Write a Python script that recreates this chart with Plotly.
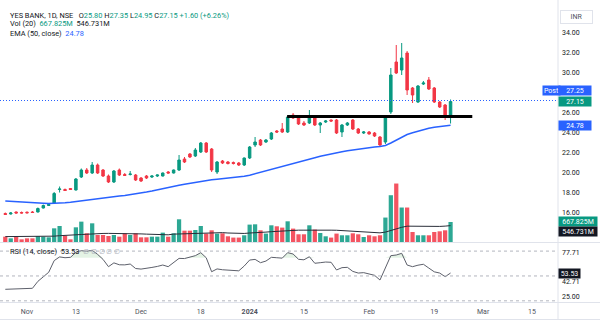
import numpy as np
import plotly.graph_objects as go

# ---------------------------------------------------------------- data
DATES = [
    "2023-10-26", "2023-10-27", "2023-10-30", "2023-10-31", "2023-11-01", "2023-11-02",
    "2023-11-03", "2023-11-06", "2023-11-07", "2023-11-08", "2023-11-09", "2023-11-10",
    "2023-11-12", "2023-11-13", "2023-11-15", "2023-11-16", "2023-11-17", "2023-11-20",
    "2023-11-21", "2023-11-22", "2023-11-23", "2023-11-24", "2023-11-28", "2023-11-29",
    "2023-11-30", "2023-12-01", "2023-12-04", "2023-12-05", "2023-12-06", "2023-12-07",
    "2023-12-08", "2023-12-11", "2023-12-12", "2023-12-13", "2023-12-14", "2023-12-15",
    "2023-12-18", "2023-12-19", "2023-12-20", "2023-12-21", "2023-12-22", "2023-12-26",
    "2023-12-27", "2023-12-28", "2023-12-29", "2024-01-01", "2024-01-02", "2024-01-03",
    "2024-01-04", "2024-01-05", "2024-01-08", "2024-01-09", "2024-01-10", "2024-01-11",
    "2024-01-12", "2024-01-15", "2024-01-16", "2024-01-17", "2024-01-18", "2024-01-19",
    "2024-01-20", "2024-01-23", "2024-01-24", "2024-01-25", "2024-01-29", "2024-01-30",
    "2024-01-31", "2024-02-01", "2024-02-02", "2024-02-05", "2024-02-06", "2024-02-07",
    "2024-02-08", "2024-02-09", "2024-02-12", "2024-02-13", "2024-02-14", "2024-02-15",
    "2024-02-16", "2024-02-19", "2024-02-20", "2024-02-21", "2024-02-22",
]
FUTURE_DATES = [
    "2024-02-23", "2024-02-26", "2024-02-27", "2024-02-28", "2024-02-29", "2024-03-01",
    "2024-03-04", "2024-03-05", "2024-03-06", "2024-03-07", "2024-03-11", "2024-03-12",
    "2024-03-13", "2024-03-14", "2024-03-15", "2024-03-18", "2024-03-19", "2024-03-20",
]

OPEN = [15.95, 15.90, 16.10, 16.05, 16.08, 16.10, 16.10, 16.50, 16.75, 17.00,
        18.35, 18.35, 18.45, 18.30, 19.60, 20.30, 20.00, 20.80, 20.30, 19.70,
        19.10, 20.30, 19.85, 19.85, 19.80, 19.50, 19.70, 19.60, 19.70, 19.70,
        20.10, 20.00, 20.30, 21.40, 21.90, 21.70, 22.10, 23.00, 22.40, 20.10,
        21.20, 21.10, 21.05, 21.00, 20.80, 21.50, 22.80, 23.30, 23.10, 23.40,
        24.20, 24.40, 24.10, 25.80, 25.50, 25.00, 25.00, 25.60, 24.80, 25.10,
        25.30, 25.30, 24.10, 24.80, 25.30, 24.40, 24.00, 24.10, 24.00, 23.60,
        23.10, 26.10, 31.10, 30.30, 32.00, 28.50, 27.10, 28.90, 29.30, 28.50,
        27.10, 26.80, 25.80]
HIGH = [16.05, 16.10, 16.15, 16.15, 16.15, 16.20, 16.55, 16.85, 16.90, 18.10,
        18.65, 18.45, 18.50, 19.50, 20.45, 20.50, 21.10, 20.95, 20.40, 19.85,
        20.30, 20.45, 20.00, 20.20, 19.90, 19.60, 19.80, 19.75, 19.85, 20.05,
        20.20, 20.35, 21.80, 21.60, 22.00, 22.50, 23.10, 23.10, 22.50, 21.20,
        21.30, 21.20, 21.15, 21.10, 21.55, 22.70, 23.60, 23.40, 23.40, 24.10,
        24.30, 25.00, 25.70, 26.00, 25.70, 25.20, 26.30, 25.70, 25.10, 25.30,
        25.35, 25.40, 24.90, 25.10, 25.40, 24.50, 24.20, 24.20, 24.10, 23.70,
        25.60, 30.50, 32.80, 33.00, 32.20, 28.60, 28.80, 29.20, 29.60, 28.60,
        27.20, 26.90, 27.35]
LOW = [15.80, 15.85, 15.95, 15.95, 15.95, 16.00, 16.05, 16.45, 16.70, 16.95,
       18.05, 18.20, 18.30, 18.25, 19.50, 19.90, 19.90, 19.90, 19.60, 19.00,
       19.00, 19.70, 19.70, 19.75, 19.20, 19.10, 19.40, 19.50, 19.60, 19.65,
       19.95, 19.95, 20.20, 21.00, 21.50, 21.60, 22.00, 22.00, 20.10, 19.90,
       20.90, 20.85, 20.85, 20.70, 20.70, 21.40, 22.60, 22.70, 23.00, 23.30,
       24.00, 24.00, 24.00, 25.40, 24.80, 24.70, 24.90, 24.70, 24.00, 25.00,
       25.10, 23.90, 23.60, 24.70, 24.30, 23.90, 23.90, 23.85, 23.60, 22.60,
       22.90, 25.90, 29.90, 29.80, 27.80, 27.00, 27.00, 28.80, 28.30, 27.00,
       26.50, 25.30, 24.95]
CLOSE = [15.85, 16.00, 16.00, 16.00, 16.02, 16.05, 16.45, 16.75, 16.85, 17.95,
         18.40, 18.25, 18.35, 19.40, 20.30, 20.00, 20.80, 20.00, 19.70, 19.10,
         20.20, 19.80, 19.75, 19.90, 19.30, 19.20, 19.50, 19.70, 19.80, 20.00,
         20.00, 20.30, 21.30, 21.10, 21.60, 22.30, 23.00, 22.10, 20.30, 21.10,
         21.00, 20.95, 20.95, 20.80, 21.50, 22.60, 23.10, 22.80, 23.30, 24.00,
         24.10, 24.10, 25.60, 25.50, 24.90, 24.80, 25.60, 24.80, 25.00, 25.20,
         25.20, 24.00, 24.80, 25.00, 24.40, 24.00, 24.10, 23.90, 23.70, 22.80,
         25.50, 29.80, 30.00, 31.50, 28.30, 27.80, 28.70, 29.00, 28.40, 27.10,
         26.60, 25.55, 27.15]

# volume in millions of shares and its 20-day average
VOLUME_M = [178, 122, 178, 89, 122, 122, 200, 178, 156, 456,
            534, 211, 89, 490, 679, 290, 623, 234, 234, 200,
            234, 178, 290, 234, 290, 156, 156, 178, 178, 312,
            178, 290, 757, 378, 378, 400, 534, 280, 390, 280,
            290, 190, 147, 147, 224, 580, 590, 390, 280, 557,
            524, 480, 690, 447, 257, 257, 557, 414, 300, 190,
            147, 280, 224, 224, 290, 257, 167, 224, 190, 224,
            815, 1560, 1950, 1150, 1150, 334, 224, 224, 224, 334,
            357, 390, 667.825]
VOL_MA_M = [180, 180, 179, 178, 177, 177, 178, 180, 182,
            195, 210, 215, 215, 230, 250, 258, 275, 282,
            285, 287, 288, 285, 282, 280, 275, 270, 262,
            255, 250, 245, 240, 262, 270, 278, 288, 296,
            305, 305, 308, 310, 312, 300, 290, 285, 285,
            300, 318, 325, 330, 345, 358, 370, 385, 395,
            395, 395, 400, 405, 410, 405, 395, 392, 380,
            365, 350, 340, 330, 320, 312, 305,
            330, 385, 449, 490, 528, 525, 516, 510, 502, 510, 520, 530, 546.731]

EMA50 = [17.20, 17.16, 17.12, 17.08, 17.05, 17.02, 17.00, 16.98, 16.96, 16.96,
         16.99, 17.03, 17.08, 17.14, 17.20, 17.27, 17.33, 17.40, 17.47, 17.54,
         17.62, 17.69, 17.76, 17.83, 17.91, 18.00, 18.10, 18.20, 18.30, 18.42,
         18.53, 18.65, 18.77, 18.88, 18.98, 19.08, 19.18, 19.28, 19.33, 19.38,
         19.43, 19.48, 19.53, 19.60, 19.67, 19.78, 19.92, 20.06, 20.20, 20.33,
         20.47, 20.62, 20.78, 20.93, 21.08, 21.22, 21.37, 21.52, 21.67, 21.80,
         21.92, 22.03, 22.13, 22.22, 22.31, 22.39, 22.47, 22.54, 22.60, 22.65,
         22.75, 23.00, 23.30, 23.60, 23.85, 24.03, 24.20, 24.35, 24.48, 24.57,
         24.64, 24.70, 24.78]

RSI14 = [33.9, 34.0, 34.3, 34.5, 34.8, 35.1, 43.5, 49.5, 54.5, 68.5,
         73.0, 72.0, 72.5, 78.5, 80.5, 79.8, 81.0, 76.0, 70.0, 61.2,
         65.8, 63.5, 63.4, 64.4, 59.0, 58.3, 59.0, 60.3, 61.5, 63.2,
         61.2, 66.0, 71.2, 71.0, 73.2, 74.5, 78.1, 72.0, 55.1, 58.5,
         57.5, 57.0, 56.8, 56.2, 62.0, 69.2, 70.0, 66.0, 68.0, 72.5,
         72.0, 71.5, 78.1, 76.5, 70.1, 69.5, 73.2, 65.3, 66.0, 66.8,
         66.5, 57.2, 60.0, 60.4, 55.5, 53.5, 54.0, 52.8, 50.8, 45.1,
         60.0, 74.5, 75.3, 77.3, 63.2, 61.2, 63.0, 64.1, 59.5, 55.0,
         53.5, 49.1, 53.53]

TICK_DATES = ["2023-11-01", "2023-11-13", "2023-12-01", "2023-12-18", "2024-01-01",
              "2024-01-15", "2024-02-01", "2024-02-19", "2024-03-01", "2024-03-15"]
TICK_TEXT = ["Nov", "13", "Dec", "18", "<b>2024</b>", "15", "Feb", "19", "Mar", "15"]

PRICE_TICKS = [16, 18, 20, 22, 24, 26, 30, 32, 34]
RSI_TICKS = [77.71, 42.71, 25.00]
RSI_BANDS = [80, 50, 20]
RSI_GLOW_LEVEL = 72

SUPPORT_LEVEL = 25.65
SUPPORT_FROM = "2024-01-10"
SUPPORT_TO = "2024-02-28"
POST_PRICE = 27.25

# ---------------------------------------------------------------- style
UP = "#089981"
DOWN = "#f23645"
BLUE = "#2962ff"
TXT = "#131722"
FONT = "Roboto"

W, H = 600, 325
PLOT_W, PLOT_H = 558, 302          # plot area (price scale sits in the right margin)
PRICE_PANE_BOTTOM = 242            # pixel row where the price pane ends


def px(xp):
    return xp / PLOT_W


def py(yp):
    return (PLOT_H - yp) / PLOT_H


axis_dates = DATES + FUTURE_DATES
pos = {d: i for i, d in enumerate(axis_dates)}
idx = np.arange(len(DATES))

is_up = np.array(CLOSE) >= np.array(OPEN)
vol_colors = np.where(is_up, "rgba(8,153,129,0.85)", "rgba(242,54,69,0.85)")

fig = go.Figure()

# volume histogram + its moving average (bottom of the price pane)
fig.add_trace(go.Bar(x=idx, y=VOLUME_M, marker=dict(color=vol_colors, line=dict(width=0)),
                     width=0.78, xaxis="x", yaxis="y", hoverinfo="skip"))
fig.add_trace(go.Scatter(x=idx, y=VOL_MA_M, mode="lines", line=dict(color="#2a2e39", width=1),
                         xaxis="x", yaxis="y", hoverinfo="skip"))

# candles and EMA
fig.add_trace(go.Candlestick(
    x=idx, open=OPEN, high=HIGH, low=LOW, close=CLOSE,
    increasing=dict(line=dict(color=UP, width=1), fillcolor=UP),
    decreasing=dict(line=dict(color=DOWN, width=1), fillcolor=DOWN),
    whiskerwidth=0, xaxis="x", yaxis="y3", hoverinfo="skip"))
fig.add_trace(go.Scatter(x=idx, y=EMA50, mode="lines", line=dict(color=BLUE, width=1.5),
                         xaxis="x", yaxis="y3", hoverinfo="skip"))

# RSI pane with overbought glow
fig.add_trace(go.Scatter(x=idx, y=[RSI_GLOW_LEVEL] * len(idx), mode="lines",
                         line=dict(width=0), xaxis="x", yaxis="y2", hoverinfo="skip"))
fig.add_trace(go.Scatter(x=idx, y=np.maximum(RSI14, RSI_GLOW_LEVEL), mode="lines",
                         line=dict(width=0), fill="tonexty", fillcolor="rgba(76,175,80,0.15)",
                         xaxis="x", yaxis="y2", hoverinfo="skip"))
fig.add_trace(go.Scatter(x=idx, y=RSI14, mode="lines", line=dict(color="#5d606b", width=1),
                         xaxis="x", yaxis="y2", hoverinfo="skip"))

price_dom = [py(PRICE_PANE_BOTTOM), 1]
rsi_dom = [0, py(PRICE_PANE_BOTTOM + 1)]
vol_px_per_m = 20 / VOLUME_M[-1]

x_lo = -5.3 / 5.43
x_hi = (PLOT_W - 5.3) / 5.43

tickfont = dict(family=FONT, size=7, color=TXT)

fig.update_layout(
    width=W, height=H,
    margin=dict(l=0, r=W - PLOT_W, t=0, b=H - PLOT_H),
    paper_bgcolor="white", plot_bgcolor="white",
    showlegend=False, boxgap=0.35,
    font=dict(family=FONT, size=7, color=TXT),
    xaxis=dict(domain=[0, 1], range=[x_lo, x_hi], anchor="y2",
               tickvals=[pos[d] for d in TICK_DATES], ticktext=TICK_TEXT,
               showgrid=False, zeroline=False, showline=False, ticks="",
               tickfont=dict(family=FONT, size=7, color="#50535e"),
               ticklabelstandoff=4, rangeslider=dict(visible=False), automargin=False),
    yaxis=dict(domain=price_dom, range=[0, (PRICE_PANE_BOTTOM - 0.3) / vol_px_per_m],
               visible=False, fixedrange=True),
    yaxis3=dict(overlaying="y", side="right", anchor="x",
                range=[34 - (PRICE_PANE_BOTTOM - 33) / 10, 34 + 33 / 10],
                tickvals=PRICE_TICKS, ticktext=[f"{v:.2f}" for v in PRICE_TICKS],
                showgrid=False, zeroline=False, showline=False, ticks="",
                tickfont=tickfont, ticklabelstandoff=3, automargin=False),
    yaxis2=dict(domain=rsi_dom, side="right", anchor="x",
                range=[42.71 - 20 * 35 / 29, 77.71 + 10 * 35 / 29],
                tickvals=RSI_TICKS, ticktext=[f"{v:.2f}" for v in RSI_TICKS],
                showgrid=False, zeroline=False, showline=False, ticks="",
                tickfont=tickfont, ticklabelstandoff=3, automargin=False),
)

shapes = []
# pane separators and scale border
sep = "#e0e3eb"
shapes.append(dict(type="line", xref="paper", yref="paper", x0=1, x1=1,
                   y0=py(0), y1=py(319.5), line=dict(color=sep, width=1)))
for row in (242.5, 302.5, 319.5):
    shapes.append(dict(type="line", xref="paper", yref="paper", x0=0, x1=px(W),
                       y0=py(row), y1=py(row), line=dict(color=sep, width=1)))
# RSI bands
for b in RSI_BANDS:
    shapes.append(dict(type="line", xref="paper", yref="y2", x0=0, x1=1, y0=b, y1=b,
                       line=dict(color="#b2b5be", width=1, dash="3px,3px")))
# post-market price line
shapes.append(dict(type="line", xref="paper", yref="y3", x0=0, x1=1,
                   y0=POST_PRICE, y1=POST_PRICE,
                   line=dict(color=BLUE, width=1, dash="1px,2px")))
# breakout level
shapes.append(dict(type="line", xref="x", yref="y3", x0=pos[SUPPORT_FROM] - 0.1,
                   x1=pos[SUPPORT_TO], y0=SUPPORT_LEVEL, y1=SUPPORT_LEVEL,
                   line=dict(color="#000000", width=3)))
fig.update_layout(shapes=shapes)

ann = []


def legend_line(y, text):
    ann.append(dict(xref="paper", yref="paper", x=px(8), y=py(y), xanchor="left",
                    yanchor="middle", text=text, showarrow=False,
                    font=dict(family=FONT, size=7.4, color=TXT)))


def span(val, color):
    return f'<span style="color:{color}">{val}</span>'


nb = "\u00a0"
o, h, l, c = OPEN[-1], HIGH[-1], LOW[-1], CLOSE[-1]
chg = c - CLOSE[-2]
legend_line(15, f"YES BANK, 1D, NSE{nb*3}O{span(f'{o:.2f}', UP)}{nb}H{span(f'{h:.2f}', UP)}"
                f"{nb}L{span(f'{l:.2f}', UP)}{nb}C{span(f'{c:.2f}', UP)}{nb}"
                f"{span(f'{chg:+.2f} ({chg / CLOSE[-2] * 100:+.2f}%)', UP)}")
legend_line(24, f"Vol (20){nb*2}{span(f'{VOLUME_M[-1]:.3f}M', UP)}{nb*2}{VOL_MA_M[-1]:.3f}M")
legend_line(33, f"EMA (50, close){nb*2}{span(f'{EMA50[-1]:.2f}', BLUE)}")
legend_line(251, f"RSI (14, close){nb*2}{RSI14[-1]:.2f}{nb*2}"
                 + span(f"{nb}".join(["\u2205"] * 5), "#b2b5be"))


def scale_label(text, bg, yref, y, x=558, width=31, yshift=0, fg="white"):
    ann.append(dict(xref="paper", yref=yref, x=px(x), y=y, xanchor="left", yanchor="middle",
                    text=text, showarrow=False, bgcolor=bg, width=width, height=8,
                    borderpad=0.5, yshift=yshift, align="center",
                    font=dict(family=FONT, size=7, color=fg)))


ann.append(dict(xref="paper", yref="paper", x=px(560), y=py(16.5), xanchor="left",
                yanchor="middle", text="INR", showarrow=False, bgcolor="white",
                bordercolor="#e0e3eb", borderwidth=1, borderpad=2, width=27, height=8,
                font=dict(family=FONT, size=7, color="#50535e")))
scale_label("Post", BLUE, "y3", POST_PRICE, x=542, width=16, yshift=10)
scale_label(f"{POST_PRICE:.2f}", BLUE, "y3", POST_PRICE, yshift=10)
scale_label(f"{c:.2f}", UP, "y3", c)
scale_label(f"{EMA50[-1]:.2f}", BLUE, "y3", EMA50[-1])
scale_label(f"{VOLUME_M[-1]:.3f}M", UP, "y", VOLUME_M[-1], width=37)
scale_label(f"{VOL_MA_M[-1]:.3f}M", TXT, "y", VOL_MA_M[-1], width=37, yshift=-6)
scale_label(f"{RSI14[-1]:.2f}", TXT, "y2", RSI14[-1], width=20)

fig.update_layout(annotations=ann)
fig.write_html("out.html")
